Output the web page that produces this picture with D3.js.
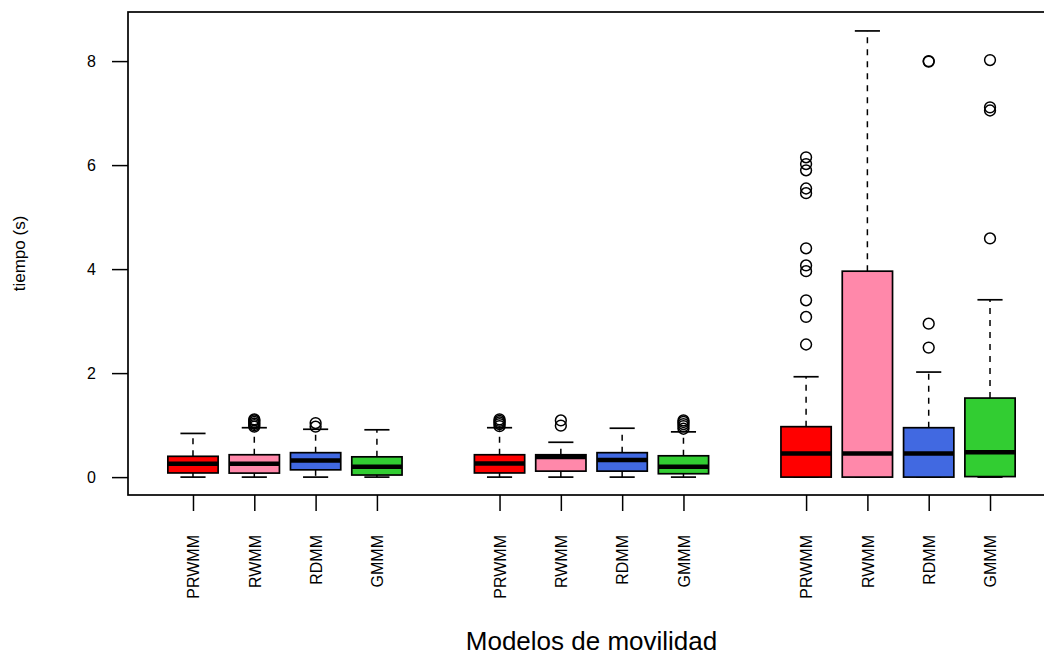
<!DOCTYPE html>
<html>
<head>
<meta charset="utf-8">
<script src="https://cdn.jsdelivr.net/npm/d3@7"></script>
<style>
  html, body { margin: 0; padding: 0; background: #fff; }
  svg { display: block; font-family: "Liberation Sans", Arial, Helvetica, sans-serif; }
</style>
</head>
<body>
<svg id="chart" width="1044" height="656"></svg>
<script>
// Mobility models, three scenarios of four models each
const categories = ["PRWMM", "RWMM", "RDMM", "GMMM",
                    "PRWMM", "RWMM", "RDMM", "GMMM",
                    "PRWMM", "RWMM", "RDMM", "GMMM"];
const positions = [1, 2, 3, 4, 6, 7, 8, 9, 11, 12, 13, 14];
const fillColors = ["#ff0000", "#ff88aa", "#4169e1", "#32cd32",
                    "#ff0000", "#ff88aa", "#4169e1", "#32cd32",
                    "#ff0000", "#ff88aa", "#4169e1", "#32cd32"];

// Five-number summaries (seconds)
const whiskerLow  = [0, 0, 0, 0,     0, 0, 0, 0,      0, 0, 0, 0];
const lowerQuart  = [0.08, 0.077, 0.14, 0.04,   0.08, 0.115, 0.115, 0.065,   0, 0, 0, 0.01];
const medians     = [0.255, 0.255, 0.32, 0.20,  0.26, 0.385, 0.33, 0.20,     0.455, 0.455, 0.455, 0.48];
const upperQuart  = [0.40, 0.43, 0.47, 0.39,    0.43, 0.43, 0.47, 0.41,      0.97, 3.96, 0.95, 1.52];
const whiskerHigh = [0.84, 0.95, 0.92, 0.91,    0.95, 0.67, 0.94, 0.87,      1.93, 8.58, 2.02, 3.41];
const outliers = [
  [], [0.97, 1.0, 1.03, 1.06, 1.09, 1.11], [0.97, 1.04], [],
  [0.98, 1.02, 1.05, 1.08, 1.11], [0.99, 1.09], [], [0.93, 0.98, 1.02, 1.06, 1.09],
  [2.55, 3.08, 3.40, 3.96, 4.07, 4.40, 5.46, 5.55, 5.90, 6.02, 6.15], [], [2.49, 2.95, 7.99, 8.0], [4.59, 7.05, 7.11, 8.02]
];
const yTicks = [0, 2, 4, 6, 8];

const svg = d3.select("#chart");
const plotLeft = 128, plotRight = 1055, plotTop = 12, plotBottom = 495;

const x = d3.scaleLinear().domain([-0.06, 15.06]).range([plotLeft, plotRight]);
const y = d3.scaleLinear().domain([-0.344, 8.944]).range([plotBottom, plotTop]);
const halfW = (x(0.82) - x(0)) / 2;
const stapleHalf = halfW / 2;

svg.append("rect").attr("width", 1044).attr("height", 656).attr("fill", "#fff");

const boxes = svg.append("g");
positions.forEach((p, i) => {
  const cx = x(p);
  const g = boxes.append("g");
  // whiskers
  g.append("line").attr("x1", cx).attr("x2", cx)
    .attr("y1", y(upperQuart[i])).attr("y2", y(whiskerHigh[i]))
    .attr("stroke", "#000").attr("stroke-width", 1.5).attr("stroke-dasharray", "6,6");
  g.append("line").attr("x1", cx).attr("x2", cx)
    .attr("y1", y(lowerQuart[i])).attr("y2", y(whiskerLow[i]))
    .attr("stroke", "#000").attr("stroke-width", 1.5).attr("stroke-dasharray", "6,6");
  // staples
  [whiskerHigh[i], whiskerLow[i]].forEach(v => {
    g.append("line").attr("x1", cx - stapleHalf).attr("x2", cx + stapleHalf)
      .attr("y1", y(v)).attr("y2", y(v))
      .attr("stroke", "#000").attr("stroke-width", 1.7);
  });
  // box
  g.append("rect")
    .attr("x", cx - halfW).attr("width", 2 * halfW)
    .attr("y", y(upperQuart[i])).attr("height", y(lowerQuart[i]) - y(upperQuart[i]))
    .attr("fill", fillColors[i]).attr("stroke", "#000").attr("stroke-width", 1.7);
  // median
  g.append("line").attr("x1", cx - halfW).attr("x2", cx + halfW)
    .attr("y1", y(medians[i])).attr("y2", y(medians[i]))
    .attr("stroke", "#000").attr("stroke-width", 4.5);
  // outliers
  g.selectAll("circle").data(outliers[i]).join("circle")
    .attr("cx", cx).attr("cy", d => y(d)).attr("r", 5.4)
    .attr("fill", "none").attr("stroke", "#000").attr("stroke-width", 1.5);
});

// frame
svg.append("rect").attr("x", plotLeft).attr("y", plotTop)
  .attr("width", plotRight - plotLeft).attr("height", plotBottom - plotTop)
  .attr("fill", "none").attr("stroke", "#000").attr("stroke-width", 1.7);

// y axis
const yAxis = svg.append("g").attr("transform", `translate(${plotLeft},0)`)
  .call(d3.axisLeft(y).tickValues(yTicks).tickSize(16).tickPadding(16).tickFormat(d3.format("d")));
yAxis.select(".domain").remove();
yAxis.selectAll("line").attr("stroke", "#000").attr("stroke-width", 1.5);
yAxis.selectAll("text").attr("font-size", 16).attr("fill", "#000")
  .attr("font-family", "Liberation Sans, Arial, sans-serif");

// x axis
const xAxis = svg.append("g").attr("transform", `translate(0,${plotBottom})`)
  .call(d3.axisBottom(x).tickValues(positions).tickSize(16).tickFormat((d, i) => categories[i]));
xAxis.select(".domain").remove();
xAxis.selectAll("line").attr("stroke", "#000").attr("stroke-width", 1.5);
xAxis.selectAll("text")
  .attr("font-size", 16).attr("fill", "#000")
  .attr("font-family", "Liberation Sans, Arial, sans-serif")
  .attr("transform", "rotate(-90)")
  .attr("text-anchor", "end")
  .attr("x", -40).attr("y", 0).attr("dy", "0.36em");

// axis titles
svg.append("text")
  .attr("transform", `translate(25,${(plotTop + plotBottom) / 2}) rotate(-90)`)
  .attr("text-anchor", "middle").attr("font-size", 17).attr("fill", "#000")
  .text("tiempo (s)");
svg.append("text")
  .attr("x", (plotLeft + plotRight) / 2).attr("y", 650)
  .attr("text-anchor", "middle").attr("font-size", 26).attr("fill", "#000")
  .text("Modelos de movilidad");
</script>
</body>
</html>
